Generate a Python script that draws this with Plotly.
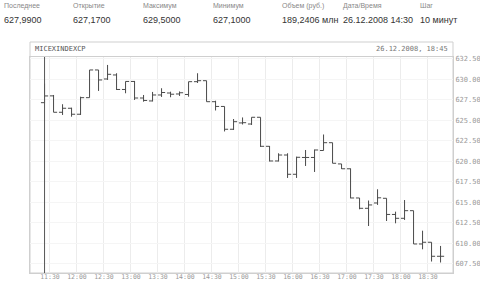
import plotly.graph_objects as go
import pandas as pd

# ---- data ----
bar_times = pd.date_range("2008-12-26 11:20", periods=45, freq="10min")
opens = [627.17, 628.00, 626.00, 626.49, 625.76, 627.78, 631.16, 630.06, 630.55, 628.78,
         629.76, 627.74, 627.38, 628.11, 628.35, 628.23, 628.17, 629.73, 629.85, 627.29,
         626.71, 623.93, 624.70, 624.57, 625.39, 621.85, 620.06, 620.79, 618.44, 620.49,
         620.49, 621.34, 622.29, 619.70, 619.11, 615.55, 614.29, 614.94, 615.51, 613.54,
         613.07, 614.00, 609.94, 610.15, 608.44]
highs = [629.50, 628.11, 626.98, 626.56, 627.90, 631.16, 631.16, 631.77, 630.76, 629.76,
         629.82, 628.11, 628.48, 628.93, 628.51, 628.54, 629.73, 630.76, 629.85, 627.41,
         626.71, 625.18, 625.37, 625.39, 625.39, 621.89, 621.00, 621.00, 620.59, 621.40,
         621.46, 623.29, 622.29, 619.70, 619.15, 615.55, 615.24, 616.61, 615.51, 613.88,
         615.30, 614.00, 611.56, 610.15, 609.70]
lows = [627.10, 626.00, 625.67, 625.46, 625.67, 627.78, 628.60, 629.94, 628.72, 628.32,
        627.50, 627.29, 627.32, 627.87, 627.83, 627.99, 627.90, 629.57, 627.29, 626.22,
        623.66, 623.84, 624.51, 624.45, 621.77, 620.00, 620.00, 617.99, 617.99, 619.45,
        618.72, 621.34, 619.78, 619.09, 615.51, 614.17, 612.13, 614.70, 612.74, 612.46,
        612.87, 609.94, 609.29, 607.80, 607.68]
closes = [627.99, 626.00, 626.49, 625.76, 627.78, 631.16, 629.94, 630.63, 628.78, 629.76,
          627.74, 627.44, 628.11, 628.41, 628.20, 628.38, 629.73, 629.85, 627.29, 626.71,
          623.93, 624.85, 624.73, 625.39, 621.85, 620.06, 620.79, 618.44, 620.51, 620.49,
          621.40, 622.29, 619.78, 619.11, 615.55, 614.29, 614.70, 615.57, 613.54, 613.07,
          614.00, 609.94, 610.15, 608.44, 608.44]

header_labels = ["Последнее", "Открытие", "Максимум", "Минимум", "Объем (руб.)", "Дата/Время", "Шаг"]
header_values = ["627,9900", "627,1700", "629,5000", "627,1000", "189,2406 млн", "26.12.2008 14:30", "10 минут"]
header_x = [2, 71, 141, 211, 280, 341, 418]

instrument = "MICEXINDEXCP"
stamp = "26.12.2008, 18:45"

W, H = 480, 283
L, R, T, B = 30, 453, 57, 273

x_plot = bar_times + pd.Timedelta(minutes=4)

fig = go.Figure()
fig.add_trace(go.Ohlc(
    x=x_plot, open=opens, high=highs, low=lows, close=closes,
    increasing=dict(line=dict(color="#4a4a4a", width=1)),
    decreasing=dict(line=dict(color="#4a4a4a", width=1)),
    tickwidth=0.4, hoverinfo="skip", showlegend=False,
))

tickfont = dict(family="DejaVu Sans Mono", size=7, color="#9a9a9a")
fig.update_layout(
    width=W, height=H,
    margin=dict(l=L, r=W - R, t=T, b=H - B, pad=0, autoexpand=False),
    paper_bgcolor="white", plot_bgcolor="white",
    showlegend=False, hovermode=False,
    xaxis=dict(
        type="date", rangeslider=dict(visible=False), automargin=False,
        range=["2008-12-26 11:07:50", "2008-12-26 18:57:50"],
        tick0="2008-12-26 11:30", dtick=30 * 60 * 1000, tickformat="%H:%M",
        showgrid=True, gridcolor="#ececec", gridwidth=1,
        showline=True, linecolor="#cfcfcf", mirror=True,
        ticks="", tickfont=dict(family="DejaVu Sans Mono", size=6.5, color="#9a9a9a"),
        zeroline=False, ticklabelstandoff=-3,
    ),
    yaxis=dict(
        side="right", range=[606.40, 632.74], automargin=False,
        tick0=607.5, dtick=2.5, tickformat=".2f",
        showgrid=True, gridcolor="#f5f5f5", gridwidth=1,
        showline=True, linecolor="#cfcfcf", mirror=True,
        ticks="", tickfont=tickfont, zeroline=False,
    ),
)

shapes = []
# outer box of the chart panel including title row
shapes.append(dict(type="rect", xref="paper", yref="paper",
                   x0=0, x1=1, y0=0, y1=(B - 42) / (B - T),
                   line=dict(color="#cfcfcf", width=1), layer="below"))
# crosshair at first bar
shapes.append(dict(type="line", xref="x", yref="paper",
                   x0=x_plot[0], x1=x_plot[0], y0=0, y1=1,
                   line=dict(color="#555555", width=1)))
fig.update_layout(shapes=shapes)

annotations = []
for lab, val, hx in zip(header_labels, header_values, header_x):
    annotations.append(dict(text=lab, xref="paper", yref="paper",
                            x=(hx - L) / (R - L), y=(B - 6) / (B - T),
                            xanchor="left", yanchor="middle", showarrow=False,
                            font=dict(family="Liberation Sans", size=7, color="#888888")))
    annotations.append(dict(text=val, xref="paper", yref="paper",
                            x=(hx - L) / (R - L), y=(B - 20) / (B - T),
                            xanchor="left", yanchor="middle", showarrow=False,
                            font=dict(family="Liberation Sans", size=9, color="#333333")))
annotations.append(dict(text=instrument, xref="paper", yref="paper",
                        x=(33 - L) / (R - L), y=(B - 49.5) / (B - T),
                        xanchor="left", yanchor="middle", showarrow=False,
                        font=dict(family="DejaVu Sans Mono", size=7, color="#555555")))
annotations.append(dict(text=stamp, xref="paper", yref="paper",
                        x=(450 - L) / (R - L), y=(B - 49.5) / (B - T),
                        xanchor="right", yanchor="middle", showarrow=False,
                        font=dict(family="DejaVu Sans Mono", size=7, color="#777777")))
fig.update_layout(annotations=annotations)

fig.write_html("out.html")
